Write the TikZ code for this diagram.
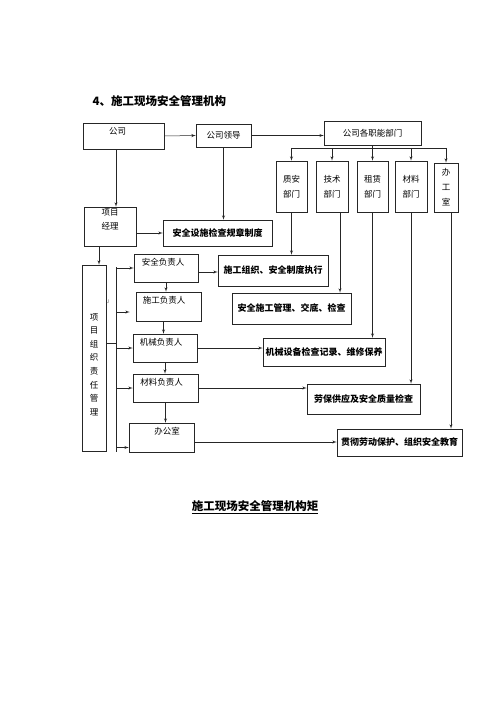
\documentclass[tikz,border=0pt]{standalone}
\usepackage{fontspec}
\setmainfont{Noto Sans CJK SC}
\usetikzlibrary{arrows}

\begin{document}
\begin{tikzpicture}[>=latex', x=1pt, y=-1pt,
	box/.style={draw=black!85, rectangle, line width=0.5pt, inner sep=0pt, font=\fontsize{8.5}{10}\selectfont},
	result/.style={box, font=\bfseries\fontsize{9}{10}\selectfont},
	dept/.style={box, align=center, minimum width=31pt, minimum height=51pt, font=\fontsize{8.5}{15}\selectfont},
	toplabel/.style 2 args={label={[anchor=north, #1, align=center, inner sep=0pt, font=\fontsize{8.5}{14}\selectfont]north:#2}},
	every edge/.append style={line width=0.5pt, draw=black!85}]
	\useasboundingbox (0,0) rectangle (500,708);
	\node [anchor=west, font=\bfseries\fontsize{11.5}{12}\selectfont] (title) at (89,101) {4、施工现场安全管理机构};
	% company level
	\node [box, minimum width=81pt, minimum height=26pt, toplabel={xshift=-6pt, yshift=-4.5pt}{公司}] (gongsi) at (123.5,136) {};
	\node [box, minimum width=55pt, minimum height=23pt] (lingdao) at (223.5,135.5) {公司领导};
	\node [box, minimum width=97pt, minimum height=24pt] (zhineng) at (372.5,133) {公司各职能部门};
	\node [dept] (zhian) at (291.5,186.5) {质安\\部门};
	\node [dept, minimum width=32pt] (jishu) at (332,186.5) {技术\\部门};
	\node [dept] (zulin) at (372.5,186.5) {租赁\\部门};
	\node [dept, minimum width=32pt] (cailiao) at (411,186.5) {材料\\部门};
	\node [dept, minimum width=24pt, minimum height=49pt] (bangong) at (446,187.5) {办\\工\\室};
	% project level
	\node [box, minimum width=52pt, minimum height=39pt, toplabel={yshift=-1.5pt}{项目\\经理}] (xmjl) at (110,226.5) {};
	\node [result, minimum width=109pt, minimum height=26pt] (sheshi) at (217.5,233) {安全设施检查规章制度};
	\node [box, minimum width=24pt, minimum height=186pt] (zeren) at (94,358) {};
	\node [font=\fontsize{8.5}{13.6}\selectfont, align=center] (zerentext) at (94,364.5) {项\\目\\组\\织\\责\\任\\管\\理};
	\node [font=\fontsize{5}{5}\selectfont, text=black!60] (mark) at (108,302) {J};
	\node [box, minimum width=64pt, minimum height=28pt, toplabel={xshift=-3pt, yshift=-4.5pt}{安全负责人}] (anquan) at (166,268) {};
	\node [box, minimum width=65pt, minimum height=29pt, toplabel={xshift=-4.5pt, yshift=-4.5pt}{施工负责人}] (shigong) at (168.5,306.5) {};
	\node [box, minimum width=64pt, minimum height=28pt, toplabel={xshift=-4pt, yshift=-4.5pt}{机械负责人}] (jixie) at (165,348) {};
	\node [box, minimum width=65pt, minimum height=28pt, toplabel={xshift=-4pt, yshift=-4.5pt}{材料负责人}] (cailiaofz) at (165.5,388) {};
	\node [box, minimum width=65pt, minimum height=29pt, toplabel={xshift=5.5pt, yshift=-4.5pt}{办公室}] (bgs) at (161.5,437.5) {};
	\node [result, minimum width=110pt, minimum height=31pt] (zhixing) at (273,270.5) {施工组织、安全制度执行};
	\node [result, minimum width=119pt, minimum height=31pt] (guanli) at (291.5,308.5) {安全施工管理、交底、检查};
	\node [result, minimum width=122pt, minimum height=28pt] (baoyang) at (324,352) {机械设备检查记录、维修保养};
	\node [result, minimum width=113pt, minimum height=30pt] (laobao) at (363.5,399) {劳保供应及安全质量检查};
	\node [result, minimum width=125pt, minimum height=27pt] (jiaoyu) at (399.5,442.5) {贯彻劳动保护、组织安全教育};
	\node [font=\bfseries\fontsize{11.5}{12}\selectfont] (caption) at (255,507) {\underline{施工现场安全管理机构矩}};
	% company links
	\path [->] (gongsi.east) edge (lingdao.west);
	\path [->] (lingdao.east) edge (lingdao.east -| zhineng.west);
	\coordinate (bus) at (0,148);
	\path (zhineng.south) edge (zhineng.south |- bus);
	\path (zhian.north |- bus) edge (bangong.north |- bus);
	\foreach \d in {zhian,jishu,zulin,cailiao,bangong}
		\path [->] (\d.north |- bus) edge (\d.north);
	\coordinate (gs) at ([xshift=-7.5pt]gongsi.south);
	\path [->] (gs) edge (gs |- xmjl.north);
	\path [->] (lingdao.south) edge (lingdao.south |- sheshi.north);
	\path [->] (xmjl.east |- sheshi.west) edge (sheshi.west);
	\coordinate (jl) at ([xshift=5pt]zeren.north);
	\path [->] (jl |- xmjl.south) edge (jl);
	% project bus
	\coordinate (bustop) at (116,267);
	\coordinate (busbot) at (116,452);
	\coordinate (tee) at (116,343);
	\path (bustop) edge (busbot);
	\path (tee -| zeren.east) edge (tee);
	\coordinate (sg) at ([yshift=-5.5pt]shigong.west);
	\coordinate (bg) at ([yshift=-10pt]bgs.west);
	\path [->] (bustop |- anquan.west) edge (anquan.west);
	\path [->] (bustop |- sg) edge ([xshift=-6pt]sg);
	\path [->] (bustop |- jixie.west) edge (jixie.west);
	\path [->] (bustop |- cailiaofz.west) edge (cailiaofz.west);
	\path [->] (bustop |- bg) edge (bg);
	% chain of duties
	\coordinate (sgs) at ([xshift=-5pt]shigong.south);
	\path [->] (anquan.south) edge (anquan.south |- shigong.north);
	\path [->] (sgs) edge (sgs |- jixie.north);
	\path [->] (jixie.south) edge (jixie.south |- cailiaofz.north);
	\path [->] (cailiaofz.south) edge (cailiaofz.south |- bgs.north);
	\coordinate (aq) at ([yshift=-4pt]anquan.east);
	\coordinate (bo) at ([yshift=-4.5pt]bgs.east);
	\path [->] (aq) edge (aq -| zhixing.west);
	\path [->] (jixie.east) edge (jixie.east -| baoyang.west);
	\path [->] (cailiaofz.east) edge (cailiaofz.east -| laobao.west);
	\path [->] (bo) edge (bo -| jiaoyu.west);
	% departments down
	\coordinate (js) at ([xshift=8pt]jishu.south);
	\coordinate (bgd) at ([xshift=5pt]bangong.south);
	\path [->] (zhian.south) edge (zhian.south |- zhixing.north);
	\path [->] (js) edge (js |- guanli.north);
	\path [->] (zulin.south) edge (zulin.south |- baoyang.north);
	\path [->] (cailiao.south) edge (cailiao.south |- laobao.north);
	\path [->] (bgd) edge (bgd |- jiaoyu.north);
\end{tikzpicture}
\end{document}
